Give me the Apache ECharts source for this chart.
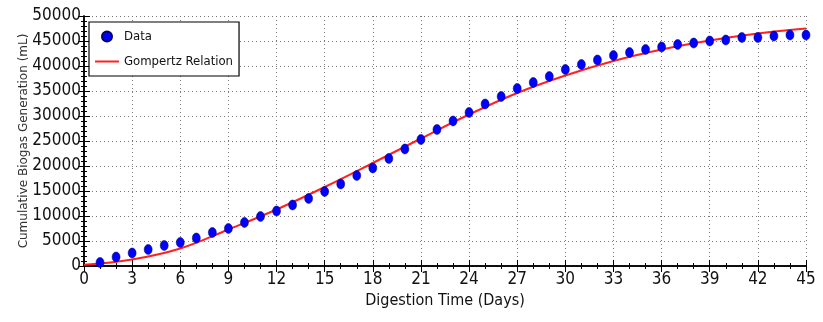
<!DOCTYPE html>
<html>
<head>
<meta charset="utf-8">
<script src="https://cdn.jsdelivr.net/npm/echarts@6/dist/echarts.min.js"></script>
<style>
  html, body { margin: 0; padding: 0; background: #fff; }
  #chart { width: 823px; height: 322px; }
</style>
</head>
<body>
<div id="chart"></div>
<script>
// measured biogas, one point per day
const days = [1,2,3,4,5,6,7,8,9,10,11,12,13,14,15,16,17,18,19,20,21,22,23,24,25,26,27,28,29,30,31,32,33,34,35,36,37,38,39,40,41,42,43,44,45];
const biogas = [700,1800,2600,3300,4100,4700,5600,6700,7500,8700,9900,11000,12200,13500,14900,16400,18100,19600,21500,23400,25300,27300,29000,30700,32400,33900,35500,36700,37900,39300,40300,41200,42100,42700,43300,43800,44300,44600,45000,45200,45700,45700,46000,46200,46200];

// gompertz curve every 3 days
const fitDays = [0,3,6,9,12,15,18,21,24,27,30,33,36,39,42,45];
const fitBiogas = [250,1300,3500,7300,11300,15800,20600,25500,30300,34600,38100,41000,43300,45100,46500,47500];

const FONT = "'DejaVu Sans Condensed', 'DejaVu Sans', sans-serif";

const chart = echarts.init(document.getElementById('chart'));

const tickStyle = (len) => ({ show: true, inside: true, length: len, lineStyle: { color: '#000', width: 1 } });
const gridLine = { show: true, lineStyle: { color: '#777', type: [1, 3], width: 1 } };

chart.setOption({
  animation: false,
  grid: { left: 84, right: 17, top: 16, bottom: 56 },
  legend: {
    orient: 'vertical',
    left: 89, top: 22,
    backgroundColor: '#fff',
    borderColor: '#000', borderWidth: 1.2,
    padding: [8, 6, 8, 6],
    itemWidth: 24, itemHeight: 10, itemGap: 12,
    textStyle: { fontFamily: FONT, fontSize: 13, color: '#111' },
    data: [
      { name: 'Data', icon: 'circle' },
      { name: 'Gompertz Relation', icon: 'path://M0,4 L24,4 L24,6 L0,6 Z' }
    ]
  },
  xAxis: [
    {
      type: 'value', min: 0, max: 45, interval: 3,
      name: 'Digestion Time (Days)', nameLocation: 'middle', nameGap: 27, nameMoveOverlap: false,
      nameTextStyle: { fontFamily: FONT, fontSize: 16, color: '#111' },
      axisLine: { show: true, onZero: false, lineStyle: { color: '#000', width: 1.5 } },
      axisTick: tickStyle(6),
      minorTick: Object.assign(tickStyle(3), { splitNumber: 3 }),
      axisLabel: { fontFamily: FONT, fontSize: 17, color: '#111', margin: 5 },
      splitLine: gridLine
    },
    {
      type: 'value', min: 0, max: 45, interval: 3, position: 'top',
      axisLine: { show: true, lineStyle: { color: '#000', width: 1.5 } },
      axisTick: tickStyle(6),
      minorTick: Object.assign(tickStyle(3), { splitNumber: 3 }),
      axisLabel: { show: false },
      splitLine: { show: false }
    }
  ],
  yAxis: [
    {
      type: 'value', min: 0, max: 50000, interval: 5000,
      name: 'Cumulative Biogas Generation (mL)', nameLocation: 'middle', nameGap: 54, nameMoveOverlap: false,
      nameTextStyle: { fontFamily: "'DejaVu Sans', sans-serif", fontSize: 12, color: '#333' },
      axisLine: { show: true, onZero: false, lineStyle: { color: '#000', width: 1.5 } },
      axisTick: tickStyle(6),
      minorTick: Object.assign(tickStyle(3), { splitNumber: 5 }),
      axisLabel: { fontFamily: FONT, fontSize: 17, color: '#111', margin: 3, formatter: (v) => String(v) },
      splitLine: gridLine
    },
    {
      type: 'value', min: 0, max: 50000, interval: 5000, position: 'right',
      axisLine: { show: true, lineStyle: { color: '#000', width: 1.5 } },
      axisTick: tickStyle(6),
      minorTick: Object.assign(tickStyle(3), { splitNumber: 5 }),
      axisLabel: { show: false },
      splitLine: { show: false }
    }
  ],
  series: [
    {
      name: 'Gompertz Relation',
      type: 'line',
      smooth: 0.4,
      showSymbol: false,
      lineStyle: { color: '#ff2020', width: 2 },
      itemStyle: { color: '#ff2020' },
      data: fitDays.map((d, i) => [d, fitBiogas[i]]),
      z: 2
    },
    {
      name: 'Data',
      type: 'scatter',
      symbol: 'circle',
      symbolSize: [8, 10],
      itemStyle: { color: '#0000ff', borderColor: '#000060', borderWidth: 0.5, opacity: 1 },
      data: days.map((d, i) => [d, biogas[i]]),
      z: 3
    }
  ]
});
</script>
</body>
</html>
